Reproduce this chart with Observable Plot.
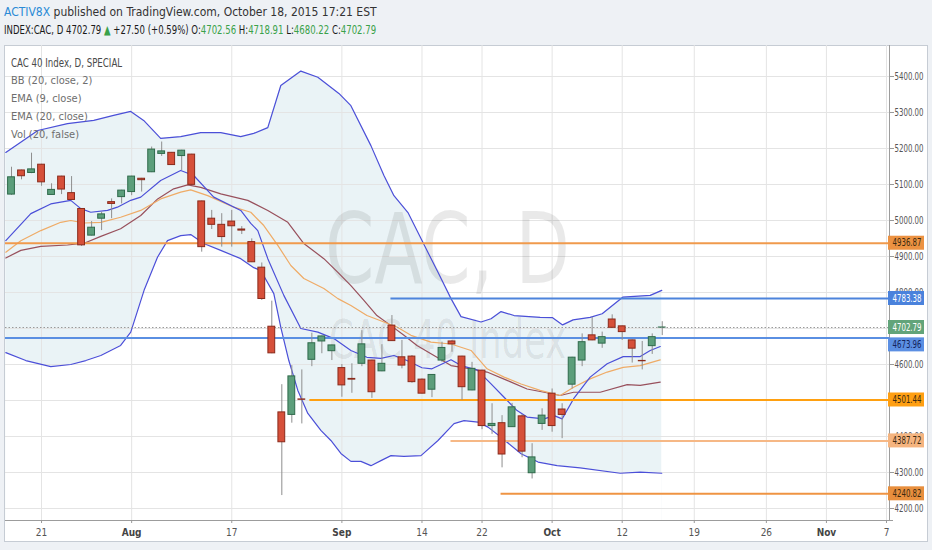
<!DOCTYPE html>
<html>
<head>
<meta charset="utf-8">
<script src="https://cdn.jsdelivr.net/npm/d3@7"></script>
<script src="https://cdn.jsdelivr.net/npm/@observablehq/plot@0.6"></script>
<style>
  html, body { margin: 0; padding: 0; }
  body {
    width: 932px; height: 550px; overflow: hidden; position: relative;
    background: #eef1f5;
    font-family: "Liberation Sans Narrow", "DejaVu Sans Condensed", "Arial Narrow", sans-serif;
  }
  #hdr1 { position: absolute; left: 4px; top: 5px; font-size: 12px; color: #333; white-space: nowrap; }
  #hdr1 .who { color: #2a8ad6; }
  #hdr2 { position: absolute; left: 4px; top: 22px; font-size: 12.5px; color: #1a1a1a; white-space: nowrap;
          transform: scaleX(0.76); transform-origin: 0 0; }
  #hdr2 .g { color: #3aa14a; }
  #panel { position: absolute; left: 4px; top: 45px; width: 924px; height: 497px; box-sizing: border-box;
           background: #fff; border: 1px solid #c6ccd4; }
  #chart { position: absolute; left: 0; top: 37px; }
  #legend { position: absolute; left: 11px; top: 54px; font-size: 11px; color: #6e6e6e; line-height: 18.1px; white-space: nowrap; }
  #legend .t { color: #4a4a4a; font-size: 12px; transform: scaleX(0.8); transform-origin: 0 0; }
</style>
</head>
<body>
<div id="hdr1"><span class="who">ACTIV8X</span> published on TradingView.com, October 18, 2015 17:21 EST</div>
<div id="hdr2">INDEX:CAC, D 4702.79 <span class="g">▲</span> +27.50 (+0.59%) O:<span class="g">4702.56</span> H:<span class="g">4718.91</span> L:<span class="g">4680.22</span> C:<span class="g">4702.79</span></div>
<div id="panel"></div>
<div id="chart"></div>
<div id="legend">
  <div class="t">CAC 40 Index, D, SPECIAL</div>
  <div>BB (20, close, 2)</div>
  <div>EMA (9, close)</div>
  <div>EMA (20, close)</div>
  <div>Vol (20, false)</div>
</div>
<script>
// ---- Daily candles, 16 Jul 2015 .. 16 Oct 2015 (bar index 0..65) ----
const opens  = [5072,5139,5132,5155,5071,5122,5076,5032,4958,5005,5051,5065,5079,5116,5134,5185,5188,5179,5183,5053,
                5005,4988,4997,4975,4940,4869,4705,4467,4460,4503,4613,4664,4637,4590,4560,4602,4611,4581,4708,4620,
                4622,4558,4530,4611,4664,4622,4528,4583,4429,4437,4426,4456,4298,4435,4519,4475,4544,4611,4681,4658,
                4725,4706,4667,4610,4651,4702.56];
const highs  = [5148,5140,5187,5156,5102,5123,5122,5033,4997,5023,5060,5084,5123,5117,5204,5218,5189,5195,5184,5054,
                5028,5019,5028,4983,4949,4882,4776,4544,4597,4585,4687,4679,4654,4600,4602,4694,4612,4655,4736,4667,
                4625,4560,4572,4662,4667,4623,4606,4584,4491,4458,4492,4461,4380,4477,4532,4491,4620,4685,4731,4690,
                4738,4707,4668,4664,4685,4718.91];
const lows   = [5070,5113,5130,5095,5070,5072,5056,4928,4957,4972,5005,5046,5069,5079,5133,5178,5153,5139,5098,4912,
                4975,4926,4926,4961,4883,4778,4630,4236,4437,4435,4594,4630,4611,4509,4520,4594,4506,4580,4664,4588,
                4548,4518,4508,4606,4634,4500,4527,4419,4406,4313,4425,4341,4282,4417,4412,4394,4532,4594,4666,4645,
                4700,4667,4604,4585,4628,4680.22];
const closes = [5120,5123,5142,5106,5085,5086,5057,4931,4980,5017,5046,5083,5122,5112,5197,5192,5154,5194,5099,4926,
                4988,4954,4984,4972,4884,4782,4631,4384,4567,4502,4659,4678,4653,4542,4558,4656,4523,4602,4665,4597,
                4551,4519,4571,4646,4656,4537,4588,4429,4435,4350,4481,4358,4342,4458,4429,4460,4619,4662,4667,4676,
                4702,4690,4644,4609,4676,4702.79];

// ---- Indicator lines: [bar index, value] ----
const bbUpper = [[-0.57,5189],[2.63,5250],[5.59,5269],[8.22,5278],[10.2,5292],[11.91,5303],[13.2,5278],[14.9,5228],
  [16.9,5233],[18.9,5244],[20.9,5244],[22.9,5233],[24.2,5242],[25.6,5258],[26.9,5375],[28.9,5415],[30.6,5398],
  [32.7,5353],[33.9,5319],[35.9,5208],[37.2,5125],[38.2,5069],[39.6,5022],[40.9,4950],[42.6,4856],[43.9,4783],
  [44.9,4733],[46.9,4718],[47.9,4727],[48.9,4747],[50.2,4736],[52.8,4731],[54.05,4730],[55.05,4710],[56.1,4724],
  [57.8,4731],[59.0,4741],[61.05,4787],[63.8,4792],[64.95,4806]];
const bbLower = [[-0.57,4633],[1.43,4611],[3.92,4594],[5.92,4600],[7.42,4611],[8.92,4625],[10.9,4653],[11.91,4690],
  [13.24,4806],[14.58,4898],[15.58,4944],[16.9,4958],[17.9,4961],[19.2,4936],[20.9,4917],[22.9,4894],[24.2,4869],
  [24.9,4861],[26.2,4797],[26.9,4703],[27.7,4611],[28.6,4528],[29.6,4464],[30.9,4417],[31.9,4389],[32.9,4353],
  [33.9,4331],[34.9,4331],[35.9,4319],[36.9,4333],[37.9,4347],[39.2,4345],[40.9,4347],[42.6,4389],[44.2,4436],
  [45.2,4444],[46.6,4440],[47.6,4426],[48.9,4398],[50.9,4352],[52.6,4329],[54.5,4319],[56.8,4313],[60.8,4298],
  [62.8,4301],[64.95,4298]];
const ema9 = [[-0.57,4944],[1.93,5019],[3.92,5046],[5.92,5056],[6.92,5033],[7.92,5023],[9.59,5028],[10.58,5037],
  [11.91,5056],[12.91,5065],[14.9,5111],[16.9,5139],[18.2,5125],[20.2,5065],[22.9,5028],[23.9,4992],[24.6,4972],
  [25.6,4894],[27.2,4792],[28.9,4700],[30.6,4690],[32.2,4672],[33.9,4639],[35.5,4620],[36.9,4617],[38.2,4625],
  [39.5,4611],[41.0,4591],[42.0,4588],[43.9,4613],[44.9,4597],[46.5,4585],[47.9,4546],[49.2,4509],[50.5,4472],
  [51.5,4454],[53.2,4449],[54.2,4458],[55.0,4449],[56.15,4505],[57.8,4565],[59.5,4602],[61.1,4622],[62.8,4622],
  [63.8,4639],[64.8,4650]];
const ema20 = [[-0.57,4912],[0.93,4944],[2.93,4972],[4.92,4995],[5.92,5000],[7.25,4993],[8.92,4995],[10.9,5009],
  [12.91,5028],[14.9,5060],[16.9,5079],[17.9,5085],[19.6,5069],[22.2,5037],[23.9,5023],[25.2,4986],[26.6,4931],
  [27.9,4875],[29.2,4839],[31.2,4811],[32.6,4783],[33.9,4764],[35.5,4736],[37.2,4718],[38.5,4704],[39.9,4681],
  [41.9,4662],[43.9,4657],[45.9,4639],[47.5,4588],[49.2,4565],[50.9,4546],[52.8,4528],[54.8,4514],[56.15,4537],
  [57.8,4560],[59.5,4579],[61.1,4592],[62.8,4597],[64.8,4613]];
const bbBasis = [[-0.57,4896],[0.93,4917],[2.93,4928],[5.59,4932],[7.25,4937],[8.92,4956],[10.9,4977],[12.91,5014],
  [14.6,5060],[16.2,5088],[17.6,5099],[18.9,5092],[20.9,5074],[23.6,5056],[25.6,5028],[27.6,4995],[29.2,4936],
  [31.2,4894],[32.6,4856],[33.9,4819],[35.2,4778],[36.5,4736],[37.9,4708],[39.2,4681],[40.5,4653],[41.9,4630],
  [43.9,4597],[45.9,4588],[47.5,4579],[49.5,4556],[51.5,4532],[53.2,4523],[54.8,4514],[56.15,4523],[58.8,4523],
  [61.5,4544],[62.8,4542],[64.8,4551]];

// ---- Drawn horizontal levels ----
const levelValues = [4936.87, 4783.38, 4673.96, 4501.44, 4387.72, 4240.82];
const levelStarts = [-0.6, 37.9, -0.6, 29.8, 43.9, 48.9];
const lastPrice = 4702.79;

// ---- Axis ticks ----
const yTicks = [4200,4300,4400,4500,4600,4700,4800,4900,5000,5100,5200,5300,5400];
const yHiddenLabels = [4500, 4700];   // fully covered by the price boxes in the reference
const xTickPos = [3, 12, 22, 33, 41, 47, 54, 61, 68.2, 75.4, 81.4, 87.4];
const xTickLabels = ["21","Aug","17","Sep","14","22","Oct","12","19","26","Nov","7"];

// ---------------------------------------------------------------
const FONT = '"Liberation Sans Narrow", "DejaVu Sans Condensed", "Arial Narrow", sans-serif';
const X0 = -0.6, X1 = 87.7, Y0 = 4166.7, Y1 = 5486.1;
const candles = opens.map((o, i) => ({i, o, h: highs[i], l: lows[i], c: closes[i]}));
const labelOf = new Map(xTickPos.map((p, k) => [p, xTickLabels[k]]));
const monthSet = new Set(["Aug","Sep","Oct","Nov"]);
const dayTicks = xTickPos.filter(p => !monthSet.has(labelOf.get(p)));
const monthTicks = xTickPos.filter(p => monthSet.has(labelOf.get(p)));
const hiddenSet = new Set(yHiddenLabels);

const lineColors = ["#f09a4c", "#4d84dc", "#5a8fe2", "#ffa010", "#f6b886", "#ef9443"];
const boxColors  = ["#ec9242", "#4a82dc", "#5b8fe3", "#ff9f12", "#f5b47f", "#e88f3e"];
const boxText    = ["#3a2a10", "#ffffff", "#13235a", "#3a2a10", "#3a2a10", "#3a2a10"];
const levels = levelValues.map((v, k) => ({v, start: levelStarts[k], line: lineColors[k], box: boxColors[k], txt: boxText[k]}));

const G = "#5c9e7b", GS = "#2f6a4b", R = "#d6503a", RS = "#8a2a1b";

function box(data, opts = {}) {
  return Plot.rect(data, {
    x1: () => X1, x2: () => X1, y1: d => d.v, y2: d => d.v,
    insetLeft: -1, insetRight: -35, insetTop: -7, insetBottom: -7,
    fill: d => d.box, clip: false, ...opts
  });
}
function boxLabel(data, opts = {}) {
  return Plot.text(data, {
    x: () => X1, y: d => d.v, text: d => d.v.toFixed(2), dx: 3, textAnchor: "start",
    fill: d => d.txt, fontSize: 10, clip: false, ...opts
  });
}

const lvMain = levels.filter(d => d.v !== 4673.96);
const lvShift = levels.filter(d => d.v === 4673.96);
const lastLv = [{v: lastPrice, box: "#62a47a", txt: "#ffffff"}];

const plot = Plot.plot({
  width: 932, height: 513,
  marginLeft: 5, marginRight: 43, marginTop: 8, marginBottom: 30,
  style: {background: "transparent", fontFamily: FONT, fontSize: "10px", color: "#555", overflow: "visible"},
  x: {domain: [X0, X1], axis: null},
  y: {domain: [Y0, Y1], axis: null},
  marks: [
    // Bollinger band fill
    Plot.areaY(bbUpper, {x: d => d[0], y1: () => Y0, y2: d => d[1], fill: "#eaf3f6"}),
    Plot.areaY(bbLower, {x: d => d[0], y1: () => Y0, y2: d => d[1], fill: "#ffffff"}),
    // grid
    Plot.ruleY(yTicks, {stroke: "#e4e4e4"}),
    Plot.ruleX(xTickPos, {stroke: "#e4e4e4"}),
    // watermark
    Plot.text(["CAC, D"], {frameAnchor: "middle", dy: -31, text: d => d, fontSize: 98, fill: "#000", fillOpacity: 0.085, fontFamily: FONT}),
    Plot.text(["CAC 40 Index"], {frameAnchor: "middle", dy: 58, text: d => d, fontSize: 54, fill: "#000", fillOpacity: 0.085, fontFamily: FONT}),
    // indicator lines
    Plot.line(bbUpper, {x: d => d[0], y: d => d[1], stroke: "#4b4fd8", strokeWidth: 1.2}),
    Plot.line(bbLower, {x: d => d[0], y: d => d[1], stroke: "#4b4fd8", strokeWidth: 1.2}),
    Plot.line(bbBasis, {x: d => d[0], y: d => d[1], stroke: "#98505c", strokeWidth: 1.2}),
    Plot.line(ema20, {x: d => d[0], y: d => d[1], stroke: "#efab66", strokeWidth: 1.2}),
    Plot.line(ema9, {x: d => d[0], y: d => d[1], stroke: "#4b4fd8", strokeWidth: 1.2}),
    // drawn levels
    Plot.ruleY([lastPrice], {stroke: "#9a9a9a", strokeDasharray: "1.5,2", strokeWidth: 1}),
    Plot.ruleY(levels, {y: "v", x1: "start", x2: () => X1, stroke: "line", strokeWidth: 2}),
    // candles
    Plot.ruleX(candles, {x: "i", y1: "l", y2: "h", stroke: "#8e8e8e", strokeWidth: 1}),
    Plot.rect(candles, {
      x1: d => d.i - 0.34, x2: d => d.i + 0.34,
      y1: d => Math.min(d.o, d.c), y2: d => Math.max(d.o, d.c),
      fill: d => d.c >= d.o ? G : R, stroke: d => d.c >= d.o ? GS : RS, strokeWidth: 1
    }),
    // axis lines
    Plot.ruleX([X1], {stroke: "#9c9c9c"}),
    Plot.ruleY([Y0], {x1: X0, x2: X1 + 0.4, stroke: "#9c9c9c", clip: false}),
    // price axis
    Plot.axisY({ticks: yTicks, anchor: "right", tickFormat: d => hiddenSet.has(d) ? null : d.toFixed(2),
                tickSize: 4, tickPadding: 1, fontSize: 10, stroke: "#999", fill: "#555"}),
    // time axis
    Plot.axisX({ticks: dayTicks, tickFormat: d => labelOf.get(d), tickSize: 3, tickPadding: 5, fontSize: 10, fill: "#555", stroke: "#999"}),
    Plot.axisX({ticks: monthTicks, tickFormat: d => labelOf.get(d), tickSize: 3, tickPadding: 5, fontSize: 10, fontWeight: "bold", fill: "#444", stroke: "#999"}),
    // price labels on the axis
    box(lvMain), boxLabel(lvMain),
    box(lastLv), boxLabel(lastLv),
    box(lvShift, {dy: 7}), boxLabel(lvShift, {dy: 7})
  ]
});
document.getElementById("chart").appendChild(plot);

// narrow the price labels and the watermark to the reference's condensed widths
d3.select(plot).selectAll("text").each(function () {
  const t = this.textContent;
  let len = null;
  if (/^\d{4}\.\d{2}$/.test(t)) len = 29;
  else if (t === "CAC, D") len = 245;
  else if (t === "CAC 40 Index") len = 237;
  if (len) { this.setAttribute("textLength", len); this.setAttribute("lengthAdjust", "spacingAndGlyphs"); }
});
</script>
</body>
</html>
